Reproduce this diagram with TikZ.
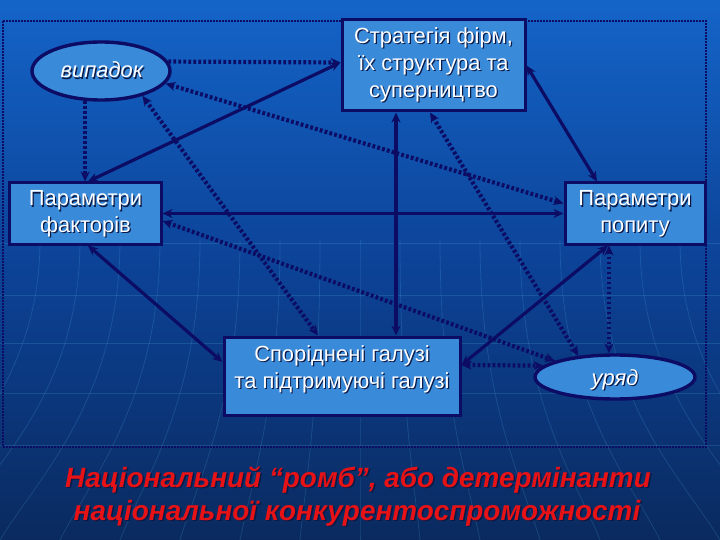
\documentclass[tikz,border=0pt]{standalone}
\usepackage{fontspec}
\setmainfont{Liberation Sans}
\usetikzlibrary{arrows.meta,shapes.geometric}
\definecolor{bgtop}{RGB}{20,100,200}
\definecolor{bgmid}{RGB}{12,66,150}
\definecolor{bgbot}{RGB}{10,42,95}
\definecolor{nodefill}{RGB}{58,138,218}
\definecolor{navy}{RGB}{12,12,100}
\definecolor{titlered}{RGB}{230,18,22}
\definecolor{shadowc}{RGB}{10,25,70}
\newcommand{\shtext}[4]{%
  \node[#3, text=shadowc, xshift=1.2bp, yshift=-1.2bp] (#1s) at (#2) {#4};
  \node[#3, text=white] (#1) at (#2) {#4};}
\begin{document}
\begin{tikzpicture}[x=1bp,y=-1bp,
  boxnode/.style={draw=navy, line width=3bp, fill=nodefill, inner sep=0pt},
  ellnode/.style={ellipse, draw=navy, line width=3.4bp, fill=nodefill, inner sep=0pt},
  lbl/.style={font=\fontsize{22}{27}\selectfont, align=center, inner sep=0pt},
  ilbl/.style={font=\fontsize{22}{27}\selectfont\itshape, inner sep=0pt},
  tip/.tip={Stealth[length=10bp,width=9bp]},
  solidc/.style={draw=navy, line width=3.2bp, tip-tip},
  dotc/.style={draw=navy, line width=4.2bp, dash pattern=on 2.8bp off 2.2bp, tip-tip},
  dotto/.style={draw=navy, line width=4.2bp, dash pattern=on 2.8bp off 2.2bp, -tip},
  deco/.style={draw=cyan!60!white, line width=0.8bp, opacity=0.16},
  ttl/.style={font=\fontsize{28}{33}\selectfont\bfseries\itshape, inner sep=0pt, anchor=base}
]
% background
\shade[top color=bgtop, bottom color=bgbot, middle color=bgmid] (0,0) rectangle (720,540);
\useasboundingbox (0,0) rectangle (720,540);
% faint template decoration
\foreach \yy in {243,295,343,393,445} {\draw[deco] (0,\yy) -- (720,\yy);}
\foreach \xx in {40,80,...,680} {\draw[deco] (\xx,240) .. controls (\xx,400) and ({\xx+0.35*(\xx-360)},480) .. ({\xx+0.5*(\xx-360)},540);}
% dotted frame
\draw[navy, line width=2.6bp, dash pattern=on 1.6bp off 1.4bp] (3,21) rectangle (706,447);

% nodes
\node[boxnode, minimum width=183bp, minimum height=91bp] (strat) at (433.5,65.5) {};
\node[boxnode, minimum width=151bp, minimum height=61bp] (fact) at (85.5,213.5) {};
\node[boxnode, minimum width=140bp, minimum height=61bp] (dem) at (635,213.5) {};
\node[boxnode, minimum width=236bp, minimum height=78bp] (rel) at (342,376) {};
\node[ellnode, minimum width=138bp, minimum height=58bp] (vyp) at (101,71) {};
\node[ellnode, minimum width=160bp, minimum height=44bp] (gov) at (615,377) {};

\shtext{strattxt}{433.5,65}{lbl}{Стратегія фірм,\\їх структура та\\суперництво}
\shtext{facttxt}{85.5,214}{lbl}{Параметри\\факторів}
\shtext{demtxt}{635,214}{lbl}{Параметри\\попиту}
\shtext{reltxt}{342,369}{lbl}{Споріднені галузі\\та підтримуючі галузі}
\shtext{vyptxt}{102,70}{ilbl}{випадок}
\shtext{govtxt}{615,380}{ilbl}{уряд}

% helper points on node borders
\coordinate (sv) at ([xshift=-37.5bp]strat.south);
\coordinate (dv) at ([xshift=-26bp]dem.south);
\coordinate (vv) at (vyp.242);

% solid connectors
\draw[solidc] ([xshift=2.5bp]fact.north) -- ([yshift=3bp]strat.west);
\draw[solidc] (strat.east) -- ([xshift=-38bp]dem.north);
\draw[solidc] (sv) -- (sv |- rel.north);
\draw[solidc] (fact.east) -- (dem.west);
\draw[solidc] ([xshift=2.5bp]fact.south) -- ([yshift=14bp]rel.west);
\draw[solidc] ([yshift=11bp]rel.east) -- ([xshift=-27bp]dem.south);

% dotted connectors
\draw[dotto] (vyp.8) -- ([yshift=3bp]strat.west);
\draw[dotto] (vv) -- (vv |- fact.north);
\draw[dotc] (vyp.-11) -- ([yshift=10bp]dem.west);
\draw[dotc] (vyp.-31) -- ([xshift=-24bp]rel.north);
\draw[dotc] ([yshift=-7.5bp]fact.east) -- (gov.165);
\draw[dotc] ([xshift=-3.5bp]strat.south) -- (gov.150);
\draw[dotc] (dv) -- (dv |- gov.north);
\draw[dotc] ([yshift=11bp]rel.east) -- (gov.171);

% title
\node[ttl, text=shadowc] (t1s) at (359.5,488.5) {Національний “ромб”, або детермінанти};
\node[ttl, text=titlered] (t1) at (358,487) {Національний “ромб”, або детермінанти};
\node[ttl, text=shadowc] (t2s) at (358.5,521.5) {національної конкурентоспроможності};
\node[ttl, text=titlered] (t2) at (357,520) {національної конкурентоспроможності};
\end{tikzpicture}
\end{document}
